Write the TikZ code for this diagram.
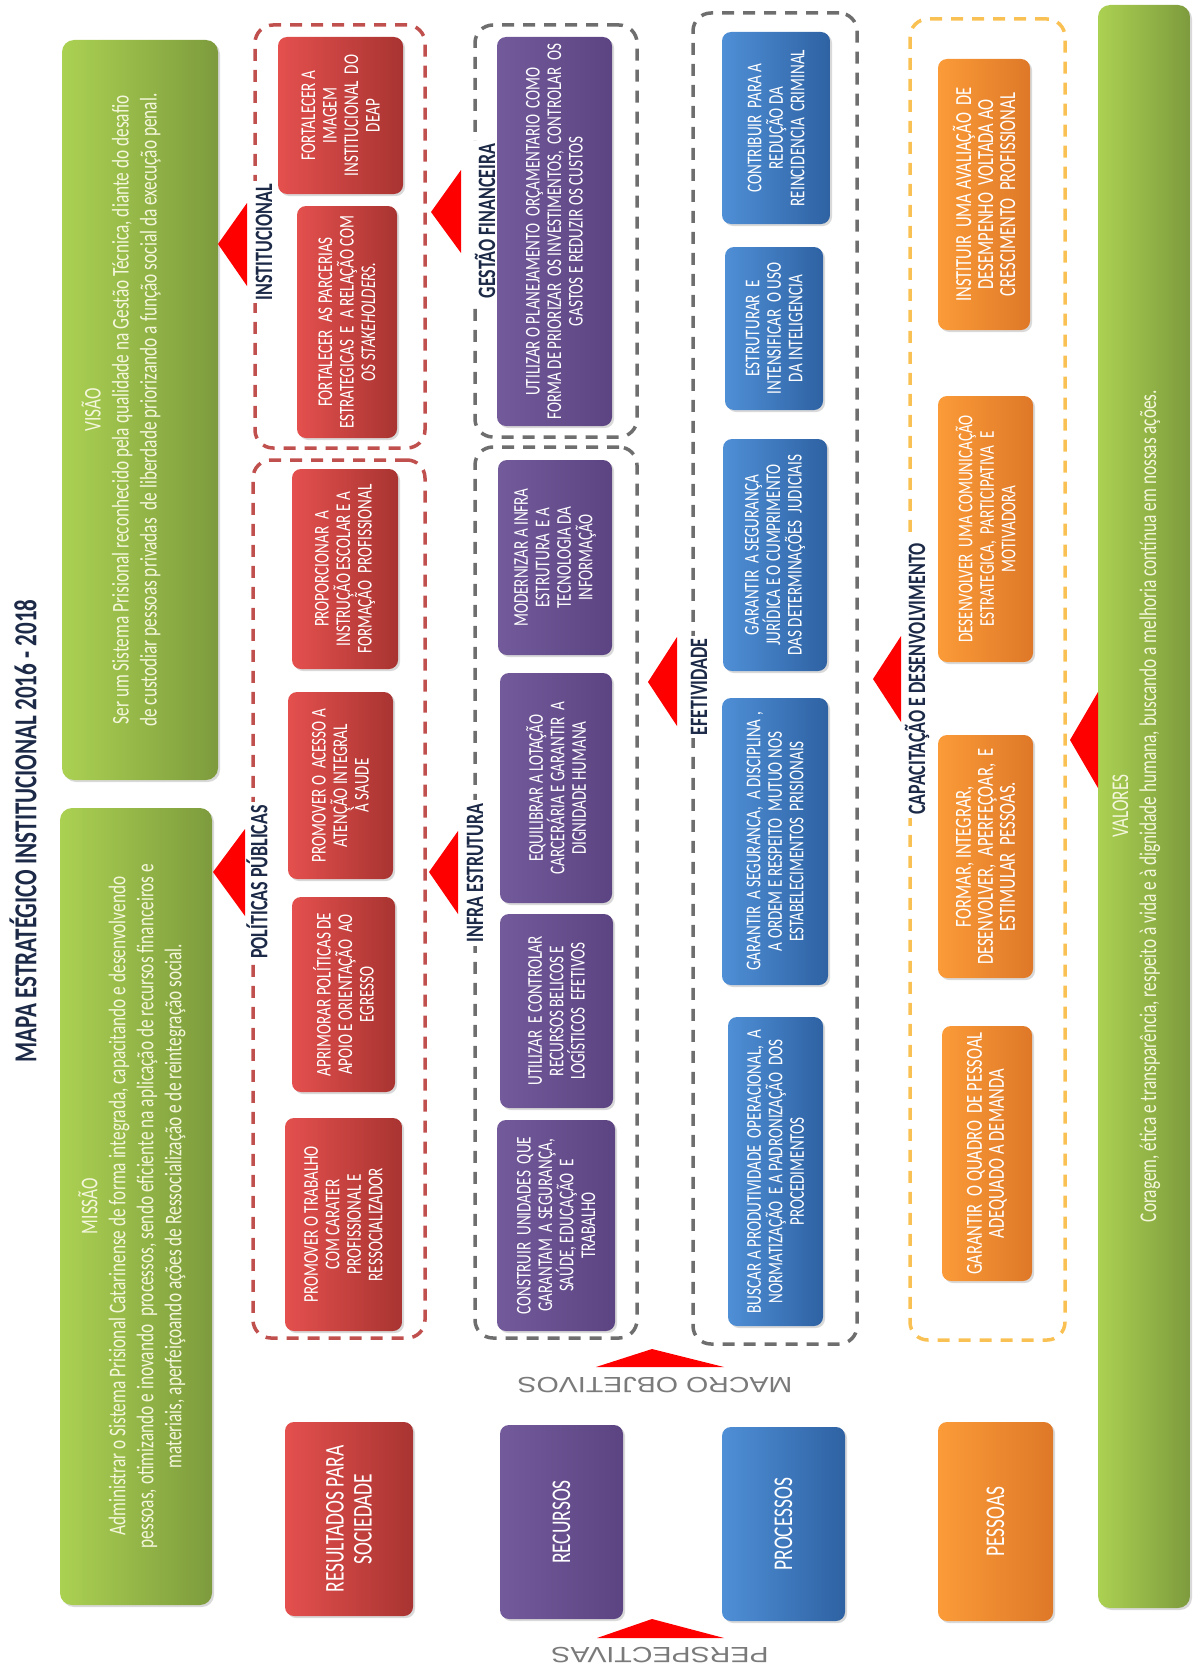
\documentclass[tikz,border=0pt]{standalone}
\usepackage{fontspec}
\setmainfont{Carlito}[FakeStretch=0.72]
\newfontfamily\greyfont{Liberation Sans}[FakeStretch=1.3]
\usetikzlibrary{shadows}
\definecolor{rlight}{HTML}{E4504E}
\definecolor{rdark}{HTML}{A83431}
\definecolor{plight}{HTML}{735A9B}
\definecolor{pdark}{HTML}{5C4482}
\definecolor{blight}{HTML}{4F8FD6}
\definecolor{bdark}{HTML}{2E62A3}
\definecolor{olight}{HTML}{FB9B38}
\definecolor{odark}{HTML}{DE7828}
\definecolor{glight}{HTML}{ABD152}
\definecolor{gdark}{HTML}{7D9B3D}
\definecolor{gtext}{HTML}{F4F7DC}
\definecolor{frred}{HTML}{C0504D}
\definecolor{frgrey}{HTML}{6E6E6E}
\definecolor{frorange}{HTML}{F9C154}
\definecolor{navy}{HTML}{1C2A48}
\definecolor{greytxt}{HTML}{7A7A7A}

\begin{document}
\begin{tikzpicture}[x=1pt,y=-1pt,
	obj/.style={rounded corners=9pt,rotate=90,align=center,text=white,inner sep=2pt,
		drop shadow={opacity=0.3,shadow xshift=2pt,shadow yshift=-2pt},
		font=\fontsize{21}{21.5}\selectfont},
	rbox/.style={obj,left color=rlight,right color=rdark},
	pbox/.style={obj,left color=plight,right color=pdark},
	bbox/.style={obj,left color=blight,right color=bdark},
	obox/.style={obj,left color=olight,right color=odark},
	gbox/.style={obj,left color=glight,right color=gdark,rounded corners=12pt},
	big/.style={font=\fontsize{27}{28}\selectfont},
	wide/.style={font=\fontsize{23}{22}\selectfont},
	gtxt/.style={rotate=90,align=center,text=gtext,font=\fontsize{24}{28}\selectfont},
	grp/.style={rounded corners=18pt,line width=3.5pt,dash pattern=on 12pt off 9pt},
	lbl/.style={rotate=90,fill=white,inner sep=3pt,text=navy,font=\bfseries\fontsize{25}{26}\selectfont},
	tri/.style={fill=red},
	grey/.style={rotate=180,text=greytxt,font=\greyfont\fontsize{22}{22}\selectfont}
	]
	\useasboundingbox (0,0) rectangle (1193,1670);
	% title
	\node[rotate=90,text=navy,font=\bfseries\fontsize{32}{32}\selectfont] (title) at (23,831) {MAPA ESTRATÉGICO INSTITUCIONAL 2016 - 2018};
	% missao e visao
	\node[gbox,minimum width=740,minimum height=156] (visao) at (140,410) {};
	\node[gtxt] (visaotxt) at (121,410) {VISÃO\\Ser um Sistema Prisional reconhecido pela qualidade na Gestão Técnica, diante do desafio\\de custodiar pessoas privadas\ \ de liberdade priorizando a função social da execução penal.};
	\node[gbox,minimum width=797,minimum height=152] (missao) at (136,1206.5) {};
	\node[gtxt] (missaotxt) at (132,1206) {MISSÃO\\Administrar o Sistema Prisional Catarinense de forma integrada, capacitando e desenvolvendo\\pessoas, otimizando e inovando\ \ processos, sendo eficiente na aplicação de recursos financeiros e\\materiais, aperfeiçoando ações de Ressocialização e de reintegração social.};
	% group frames
	\node[grp,draw=frred,minimum width=170,minimum height=423] (ginst) at (340,236.5) {};
	\node[grp,draw=frred,minimum width=172,minimum height=878] (gpol) at (339,899) {};
	\node[grp,draw=frgrey,minimum width=162,minimum height=412] (gfin) at (556,231) {};
	\node[grp,draw=frgrey,minimum width=162,minimum height=891] (ginfra) at (556,892.5) {};
	\node[grp,draw=frgrey,minimum width=164,minimum height=1331] (gefet) at (775,678.5) {};
	\node[grp,draw=frorange,minimum width=155,minimum height=1321] (gcap) at (987.5,679.5) {};
	% group labels
	\node[lbl] (linst) at (264,242) {INSTITUCIONAL};
	\node[lbl] (lpol) at (257,882) {POLÍTICAS PÚBLICAS};
	\node[lbl] (lfin) at (485,221) {GESTÃO FINANCEIRA};
	\node[lbl] (linfra) at (475,873) {INFRA ESTRUTURA};
	\node[lbl] (lefet) at (699,687) {EFETIVIDADE};
	\node[lbl] (lcap) at (917,679) {CAPACITAÇÃO E DESENVOLVIMENTO};
	% resultados para sociedade
	\node[rbox,minimum width=157,minimum height=125] (r1) at (340.5,115.5) {FORTALECER A\\IMAGEM\\INSTITUCIONAL\ \ DO\\DEAP};
	\node[rbox,minimum width=232,minimum height=100] (r2) at (347,322) {FORTALECER\ \ AS PARCERIAS\\ESTRATEGICAS\ \ E\ \ A RELAÇÃO COM\\\textit{OS STAKEHOLDERS.}};
	\node[rbox,minimum width=200,minimum height=106] (r3) at (345,569) {PROPORCIONAR\ \ A\\INSTRUÇÃO ESCOLAR E A\\FORMAÇÃO\ \ PROFISSIONAL};
	\node[rbox,minimum width=187,minimum height=105] (r4) at (340.5,785.5) {PROMOVER O\ \ ACESSO A\\ATENÇÃO INTEGRAL\\À SAUDE};
	\node[rbox,minimum width=195,minimum height=103] (r5) at (343.5,994.5) {APRIMORAR POLÍTICAS DE\\APOIO E ORIENTAÇÃO\ \ AO\\EGRESSO};
	\node[rbox,minimum width=213,minimum height=117] (r6) at (343.5,1224.5) {PROMOVER O TRABALHO\\COM CARATER\\PROFISSIONAL E\\RESSOCIALIZADOR};
	\node[rbox,big,minimum width=194,minimum height=128] (r7) at (349,1519) {RESULTADOS PARA\\SOCIEDADE};
	% recursos
	\node[pbox,minimum width=389,minimum height=115] (p1) at (554.5,231.5) {UTILIZAR O PLANEJAMENTO\ \ ORÇAMENTARIO\ \ COMO\\FORMA DE PRIORIZAR\ \ OS INVESTIMENTOS,\ \ CONTROLAR\ \ OS\\GASTOS E REDUZIR OS CUSTOS};
	\node[pbox,minimum width=195,minimum height=114] (p2) at (555,557.5) {MODERNIZAR A INFRA\\ESTRUTURA\ \ E A\\TECNOLOGIA DA\\INFORMAÇÃO};
	\node[pbox,minimum width=230,minimum height=112] (p3) at (556,788) {EQUILIBRAR A LOTAÇÃO\\CARCERÁRIA E GARANTIR\ \ A\\DIGNIDADE HUMANA};
	\node[pbox,minimum width=194,minimum height=113] (p4) at (556.5,1011) {UTILIZAR\ \ E CONTROLAR\\RECURSOS BELICOS E\\LOGÍSTICOS\ \ EFETIVOS};
	\node[pbox,minimum width=211,minimum height=118] (p5) at (556,1225.5) {CONSTRUIR\ \ UNIDADES\ \ QUE\\GARANTAM\ \ A SEGURANÇA,\\SAÚDE, EDUCAÇÃO\ \ E\\TRABALHO};
	\node[pbox,big,minimum width=194,minimum height=123] (p6) at (561.5,1522) {RECURSOS};
	% processos
	\node[bbox,minimum width=192,minimum height=108] (b1) at (776,128) {CONTRIBUIR\ \ PARA A\\REDUÇÃO DA\\REINCIDENCIA\ \ CRIMINAL};
	\node[bbox,minimum width=163,minimum height=98] (b2) at (774,328.5) {ESTRUTURAR\ \ E\\INTENSIFICAR\ \ O USO\\DA INTELIGENCIA};
	\node[bbox,minimum width=232,minimum height=104] (b3) at (775,555) {GARANTIR\ \ A SEGURANÇA\\JURÍDICA E O CUMPRIMENTO\\DAS DETERMINAÇÕES\ \ JUDICIAIS};
	\node[bbox,minimum width=287,minimum height=106] (b4) at (775,841.5) {GARANTIR\ \ A SEGURANCA,\ \ A DISCIPLINA ,\\A ORDEM E RESPEITO\ \ MUTUO NOS\\ESTABELECIMENTOS\ \ PRISIONAIS};
	\node[bbox,minimum width=309,minimum height=95] (b5) at (775.5,1171.5) {BUSCAR A PRODUTIVIDADE\ \ OPERACIONAL,\ \ A\\NORMATIZAÇÃO\ \ E A PADRONIZAÇÃO\ \ DOS\\PROCEDIMENTOS};
	\node[bbox,big,minimum width=194,minimum height=123] (b6) at (783.5,1524) {PROCESSOS};
	% pessoas
	\node[obox,wide,minimum width=271,minimum height=92] (o1) at (984,194.5) {INSTITUIR\ \ UMA AVALIAÇÃO\ \ DE\\DESEMPENHO\ \ VOLTADA AO\\CRESCIMENTO\ \ PROFISSIONAL};
	\node[obox,minimum width=266,minimum height=95] (o2) at (985.5,529) {DESENVOLVER\ \ UMA COMUNICAÇÃO\\ESTRATEGICA,\ \ PARTICIPATIVA\ \ E\\MOTIVADORA};
	\node[obox,wide,minimum width=243,minimum height=95] (o3) at (985.5,856.5) {FORMAR, INTEGRAR,\\DESENVOLVER,\ \ APERFEÇOAR,\ \ E\\ESTIMULAR\ \ PESSOAS.};
	\node[obox,wide,minimum width=255,minimum height=90] (o4) at (987,1153.5) {GARANTIR\ \ O QUADRO\ \ DE PESSOAL\\ADEQUADO A DEMANDA};
	\node[obox,big,minimum width=199,minimum height=115] (o5) at (995.5,1521.5) {PESSOAS};
	% valores
	\node[gbox,minimum width=1603,minimum height=92] (valores) at (1144,806.5) {};
	\node[gtxt] (valorestxt) at (1136.5,806) {VALORES\\Coragem, ética e transparência, respeito à vida e à dignidade humana, buscando a melhoria contínua em nossas ações.};
	% arrows
	\fill[tri] (218,244) -- (247,203) -- (247,286) -- cycle;
	\fill[tri] (213,872) -- (245,829) -- (245,916) -- cycle;
	\fill[tri] (431,212) -- (461,170) -- (461,253) -- cycle;
	\fill[tri] (429,872) -- (458,831) -- (458,914) -- cycle;
	\fill[tri] (648,682) -- (677,637) -- (677,726) -- cycle;
	\fill[tri] (873,679) -- (901,636) -- (901,722) -- cycle;
	\fill[tri] (1070,740) -- (1098,692) -- (1098,788) -- cycle;
	\fill[tri] (652,1349) -- (724,1367) -- (596,1367) -- cycle;
	\fill[tri] (652,1619) -- (724,1638) -- (597,1638) -- cycle;
	% bottom captions
	\node[grey] (macro) at (655,1385) {MACRO OBJETIVOS};
	\node[grey] (persp) at (660,1655) {PERSPECTIVAS};
\end{tikzpicture}
\end{document}
